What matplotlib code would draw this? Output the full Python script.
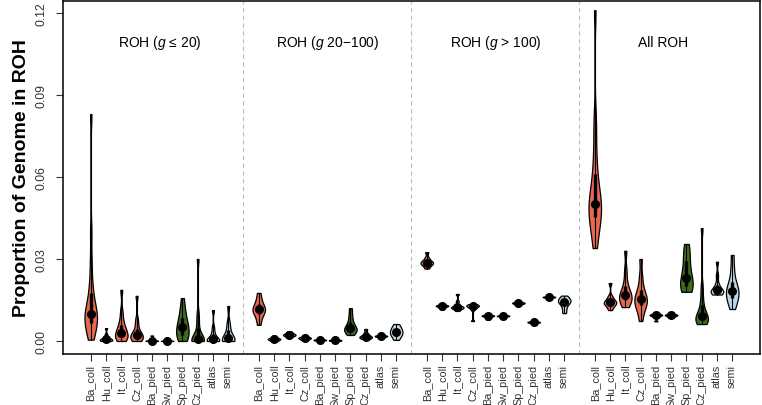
import numpy as np
import matplotlib
matplotlib.use("Agg")
import matplotlib.pyplot as plt

plt.rcParams["font.family"] = ["Liberation Sans", "DejaVu Sans"]
plt.rcParams["mathtext.fontset"] = "custom"
plt.rcParams["mathtext.rm"] = "Liberation Sans"
plt.rcParams["mathtext.it"] = "Liberation Sans:italic"

categories = ["Ba_coll", "Hu_coll", "It_coll", "Cz_coll", "Ba_pied",
              "Sw_pied", "Sp_pied", "Cz_pied", "atlas", "semi"]
colors = ["#E8684E", "#E8684E", "#E8684E", "#E8684E", "#1A1A1A",
          "#1A1A1A", "#3D6B1F", "#3D6B1F", "#D4D4D4", "#BCD6E6"]
groups = ["ROH ($\\mathit{g}$ ≤ 20)", "ROH ($\\mathit{g}$ 20−100)",
          "ROH ($\\mathit{g}$ > 100)", "All ROH"]

# per-individual proportions (one list per population)
roh_short = [
    [0.0005, 0.002, 0.004, 0.005, 0.006, 0.007, 0.008, 0.009, 0.0095, 0.010,
     0.011, 0.012, 0.014, 0.016, 0.019, 0.023, 0.030, 0.040, 0.083],
    [0.0, 0.0, 0.0002, 0.0004, 0.0005, 0.0007, 0.001, 0.0015, 0.0025, 0.0047],
    [0.0, 0.0005, 0.001, 0.0015, 0.002, 0.0026, 0.003, 0.004, 0.005, 0.006,
     0.008, 0.011, 0.0187],
    [0.0, 0.0003, 0.0008, 0.0012, 0.0015, 0.002, 0.0025, 0.003, 0.004, 0.006,
     0.008, 0.0165],
    [0.0, 0.0, 0.0, 0.0001, 0.0002, 0.0005, 0.002],
    [0.0, 0.0, 0.0, 0.0001, 0.0002, 0.0004],
    [0.0, 0.0008, 0.0015, 0.0025, 0.0035, 0.0047, 0.0055, 0.0065, 0.008, 0.010,
     0.012, 0.0157],
    [0.0, 0.0, 0.0, 0.0, 0.0002, 0.0005, 0.001, 0.002, 0.004, 0.007, 0.010, 0.030],
    [0.0, 0.0, 0.0, 0.0, 0.0003, 0.0008, 0.0015, 0.003, 0.005, 0.0113],
    [0.0, 0.0, 0.0, 0.0002, 0.0005, 0.001, 0.002, 0.003, 0.005, 0.007, 0.0128],
]
roh_mid = [
    [0.0059, 0.008, 0.0095, 0.0105, 0.011, 0.0117, 0.012, 0.013, 0.014, 0.0155, 0.0176],
    [0.0, 0.0003, 0.0005, 0.0007, 0.0008, 0.001, 0.0013, 0.002],
    [0.0012, 0.0018, 0.002, 0.0022, 0.0024, 0.0026, 0.003, 0.0035],
    [0.0003, 0.0007, 0.0009, 0.0011, 0.0013, 0.0015, 0.0022],
    [0.0, 0.0002, 0.0003, 0.0004, 0.0005, 0.0006, 0.001],
    [0.0, 0.0001, 0.0002, 0.0003, 0.0004, 0.0005, 0.0008],
    [0.0022, 0.0032, 0.0038, 0.0042, 0.0044, 0.005, 0.006, 0.0075, 0.0095, 0.012],
    [0.0007, 0.0011, 0.0013, 0.0015, 0.0017, 0.0022, 0.003, 0.0044],
    [0.001, 0.0015, 0.0017, 0.0018, 0.0019, 0.0021, 0.0025, 0.003],
    [0.0004, 0.0015, 0.0022, 0.0028, 0.0033, 0.0038, 0.0045, 0.0052, 0.0062],
]
roh_long = [
    [0.0265, 0.0275, 0.028, 0.0284, 0.0287, 0.029, 0.0295, 0.0305, 0.0325],
    [0.0115, 0.0124, 0.0126, 0.0128, 0.0129, 0.013, 0.0132, 0.0135],
    [0.011, 0.0117, 0.012, 0.0122, 0.0124, 0.0126, 0.013, 0.0145, 0.0172],
    [0.0073, 0.0115, 0.0122, 0.0126, 0.0128, 0.013, 0.0132, 0.0135],
    [0.0078, 0.0088, 0.0091, 0.0092, 0.0093, 0.0095, 0.0098],
    [0.0087, 0.009, 0.0091, 0.0092, 0.0093, 0.0094, 0.0097],
    [0.0128, 0.0134, 0.0137, 0.0139, 0.014, 0.0142, 0.0148],
    [0.0065, 0.0067, 0.0068, 0.0069, 0.007, 0.0071, 0.0073],
    [0.0155, 0.0159, 0.016, 0.0161, 0.0162, 0.0163, 0.0167],
    [0.0102, 0.0118, 0.0132, 0.0139, 0.0144, 0.0148, 0.0152, 0.0158, 0.0166],
]
roh_all = [
    [0.034, 0.038, 0.041, 0.043, 0.045, 0.047, 0.048, 0.049, 0.0495, 0.051,
     0.053, 0.055, 0.058, 0.062, 0.067, 0.075, 0.082, 0.121],
    [0.0113, 0.0125, 0.0132, 0.0137, 0.014, 0.0143, 0.0147, 0.0155, 0.0165, 0.0212],
    [0.0124, 0.0135, 0.0145, 0.0152, 0.0158, 0.0165, 0.0172, 0.018, 0.0195,
     0.022, 0.026, 0.033],
    [0.0073, 0.0105, 0.0122, 0.0133, 0.0142, 0.015, 0.0158, 0.0168, 0.018,
     0.0205, 0.024, 0.030],
    [0.0072, 0.0088, 0.0092, 0.0094, 0.0095, 0.0097, 0.0099, 0.0105],
    [0.0088, 0.0091, 0.0093, 0.0095, 0.0096, 0.0098, 0.0102],
    [0.018, 0.0185, 0.019, 0.0205, 0.0215, 0.0223, 0.024, 0.026, 0.0285, 0.031,
     0.0335, 0.0355],
    [0.0062, 0.0068, 0.0072, 0.0076, 0.008, 0.0084, 0.009, 0.0098, 0.011, 0.013,
     0.016, 0.020, 0.0413],
    [0.017, 0.0175, 0.0178, 0.018, 0.0183, 0.0187, 0.0195, 0.021, 0.024, 0.029],
    [0.0117, 0.0135, 0.015, 0.016, 0.017, 0.018, 0.0188, 0.0198, 0.021, 0.0235,
     0.027, 0.0315],
]
all_groups = [roh_short, roh_mid, roh_long, roh_all]


def nrd0(kde):
    # R's default bandwidth, expressed as a factor of the sample sd
    x = np.asarray(kde.dataset).ravel()
    sd = x.std(ddof=1)
    q75, q25 = np.percentile(x, [75, 25])
    lo = min(sd, (q75 - q25) / 1.34) or sd
    return 0.9 * lo * x.size ** -0.2 / sd


fig = plt.figure(figsize=(7.62, 4.06), dpi=100)
ax = fig.add_axes([0.083, 0.1256, 0.914, 0.8695])

ticks, labels = [], []
for g, data in enumerate(all_groups):
    for i, vals in enumerate(data):
        pos = 1 + i + 11 * g
        vals = np.asarray(vals)
        vp = ax.violinplot([vals], positions=[pos], widths=0.82, showextrema=False,
                           bw_method=nrd0, points=300)
        for b in vp["bodies"]:
            b.set_facecolor(colors[i]); b.set_edgecolor("black")
            b.set_alpha(1); b.set_linewidth(0.9); b.set_zorder(2)
        q1, med, q3 = np.percentile(vals, [25, 50, 75])
        ax.plot([pos, pos], [vals.min(), vals.max()], color="black", lw=0.8, zorder=3)
        ax.plot([pos, pos], [q1, q3], color="black", lw=2.4, zorder=3,
                solid_capstyle="butt")
        ax.plot(pos, med, "o", color="black", ms=5.5, zorder=4)
        ticks.append(pos); labels.append(categories[i])
    ax.text(5.5 + 11 * g, 0.1094, groups[g], ha="center", va="center", fontsize=10)
    if g < 3:
        ax.axvline(11 + 11 * g, color="#BBBBBB", ls=(0, (4, 3)), lw=0.8, zorder=1)

ax.set_xlim(-0.8, 44.8)
ax.set_ylim(-0.00476, 0.1244)
ax.set_xticks(ticks)
ax.set_xticklabels(labels, rotation=90, fontsize=7.8)
ax.set_yticks([0, 0.03, 0.06, 0.09, 0.12])
ax.set_yticklabels(["0.00", "0.03", "0.06", "0.09", "0.12"], rotation=90,
                   va="center", fontsize=8.8)
ax.tick_params(length=5, width=0.8, pad=2, colors="#333333", labelcolor="#333333")
ax.tick_params(axis="y", pad=6)
ax.set_ylabel("Proportion of Genome in ROH", fontsize=14, fontweight="bold",
              labelpad=4)
for s in ax.spines.values():
    s.set_linewidth(1.1)

fig.savefig("out.png", dpi=100)
